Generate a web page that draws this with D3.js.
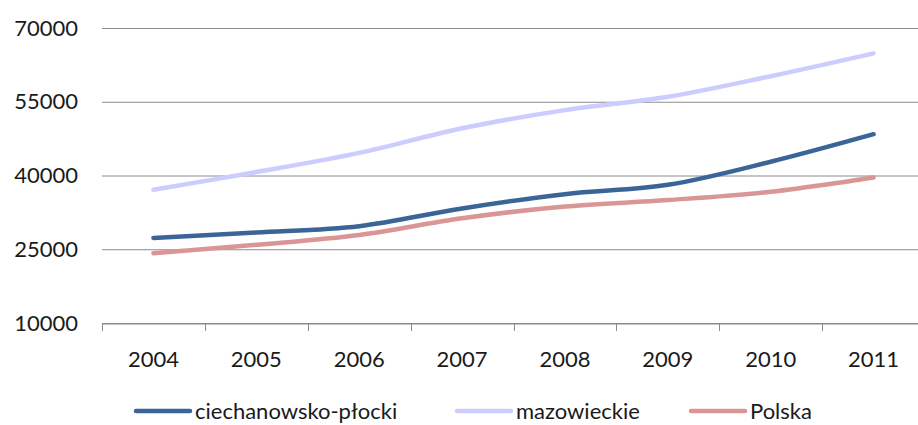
<!DOCTYPE html>
<html>
<head>
<meta charset="utf-8">
<script src="https://cdn.jsdelivr.net/npm/d3@7"></script>
<style>
  body { margin: 0; background: #fff; }
  svg { display: block; font-family: Lato, "Noto Sans", sans-serif; }
</style>
</head>
<body>
<svg id="chart" width="918" height="425"></svg>
<script>
const years = ["2004", "2005", "2006", "2007", "2008", "2009", "2010", "2011"];
const ciechanowsko = [27300, 28400, 29700, 33300, 36200, 38100, 42800, 48400];
const mazowieckie = [37100, 40700, 44600, 49600, 53300, 56000, 60200, 64850];
const polska = [24200, 25900, 27900, 31300, 33700, 35000, 36700, 39600];
const yTicks = [10000, 25000, 40000, 55000, 70000];

const series = [
  { name: "ciechanowsko-płocki", values: ciechanowsko, color: "#3b6596" },
  { name: "mazowieckie", values: mazowieckie, color: "#ccccff" },
  { name: "Polska", values: polska, color: "#d99694" }
];

const svg = d3.select("#chart");
const margin = { left: 102, right: 925, top: 28, bottom: 323 };

const x = d3.scaleBand().domain(years).range([margin.left, margin.right]);
const y = d3.scaleLinear().domain([10000, 70000]).range([margin.bottom, margin.top]);

// gridlines
svg.append("g")
  .selectAll("line")
  .data(yTicks)
  .join("line")
  .attr("x1", margin.left)
  .attr("x2", margin.right)
  .attr("y1", d => y(d) + 0.5)
  .attr("y2", d => y(d) + 0.5)
  .attr("stroke", "#8c8c8c")
  .attr("stroke-width", 1);

// y labels
svg.append("g")
  .selectAll("text")
  .data(yTicks)
  .join("text")
  .attr("x", 78)
  .attr("y", d => y(d))
  .attr("dy", "0.35em")
  .attr("text-anchor", "end")
  .attr("font-size", 22)
  .attr("fill", "#1a1a1a")
  .text(d => d);

// x axis
const xAxis = svg.append("g")
  .attr("transform", `translate(0,${margin.bottom + 0.5})`)
  .call(d3.axisBottom(x).tickSize(0).tickPadding(0).tickFormat(""));
xAxis.select(".domain").attr("stroke", "#8c8c8c");
xAxis.selectAll(".tick").remove();

const bounds = years.map(d => x(d)).concat([margin.right]);
svg.append("g")
  .selectAll("line")
  .data(bounds)
  .join("line")
  .attr("x1", d => Math.round(d) + 0.5)
  .attr("x2", d => Math.round(d) + 0.5)
  .attr("y1", margin.bottom)
  .attr("y2", margin.bottom + 8)
  .attr("stroke", "#8c8c8c");

svg.append("g")
  .selectAll("text")
  .data(years)
  .join("text")
  .attr("x", d => x(d) + x.bandwidth() / 2)
  .attr("y", 367)
  .attr("text-anchor", "middle")
  .attr("font-size", 22)
  .attr("fill", "#1a1a1a")
  .text(d => d);

// lines
const line = d3.line()
  .x((d, i) => x(years[i]) + x.bandwidth() / 2)
  .y(d => y(d))
  .curve(d3.curveCatmullRom.alpha(0.5));

svg.append("g")
  .selectAll("path")
  .data([series[1], series[0], series[2]])
  .join("path")
  .attr("d", d => line(d.values))
  .attr("fill", "none")
  .attr("stroke", d => d.color)
  .attr("stroke-width", 4.5)
  .attr("stroke-linecap", "round");

// legend
const legendX = [136, 457, 691];
const legend = svg.append("g")
  .selectAll("g")
  .data(series)
  .join("g")
  .attr("transform", (d, i) => `translate(${legendX[i]},411)`);
legend.append("line")
  .attr("x1", 0).attr("x2", 54)
  .attr("stroke", d => d.color)
  .attr("stroke-width", 4.5)
  .attr("stroke-linecap", "round");
legend.append("text")
  .attr("x", 59)
  .attr("y", 8)
  .attr("font-size", 22)
  .attr("fill", "#1a1a1a")
  .text(d => d.name);
</script>
</body>
</html>
